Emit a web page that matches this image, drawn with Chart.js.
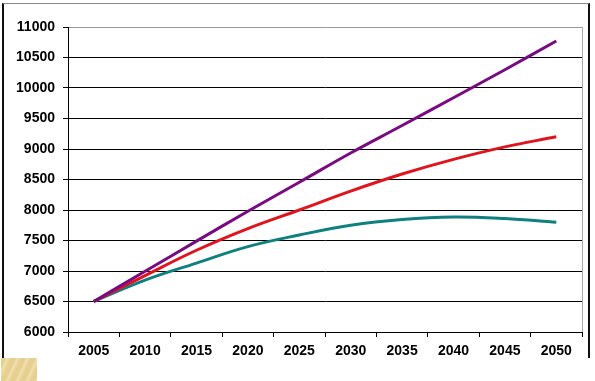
<!DOCTYPE html>
<html>
<head>
<meta charset="utf-8">
<script src="https://cdn.jsdelivr.net/npm/chart.js@4/dist/chart.umd.min.js"></script>
<style>
  html, body { margin: 0; padding: 0; background: #fff; }
  #wrap { position: relative; width: 595px; height: 381px; overflow: hidden; }
  #c { position: absolute; left: 0; top: 0; }
  #frame { position: absolute; left: 2px; top: 3px; width: 588px; height: 355px;
           border-left: 2px solid #111; border-right: 2px solid #111; border-top: 1px solid #888;
           box-sizing: border-box; pointer-events: none; }
  #swatch { position: absolute; left: 1px; top: 358px; width: 36px; height: 23px;
            background: repeating-linear-gradient(115deg, #e6cf8f 0px, #e6cf8f 4px, #f0e0b0 6px, #e9d396 9px); }
</style>
</head>
<body>
<div id="wrap">
  <canvas id="c" width="595" height="381"></canvas>
  <div id="frame"></div>
  <div id="swatch"></div>
</div>
<script>
const years = ['2005','2010','2015','2020','2025','2030','2035','2040','2045','2050'];
const purpleSeries = [6500, 6995, 7490, 7980, 8455, 8935, 9385, 9840, 10300, 10770];
const redSeries    = [6500, 6925, 7340, 7695, 8000, 8310, 8590, 8830, 9035, 9200];
const tealSeries   = [6500, 6850, 7130, 7400, 7590, 7750, 7845, 7885, 7860, 7800];
const yMin = 6000, yMax = 11000, yStep = 500;

const font = { family: 'Liberation Sans, Arial, sans-serif', size: 14, weight: 'bold' };

new Chart(document.getElementById('c'), {
  type: 'line',
  data: {
    labels: years,
    datasets: [
      { data: purpleSeries, borderColor: '#7a0a82', borderWidth: 3, pointRadius: 0, tension: 0.4, fill: false },
      { data: redSeries, borderColor: '#e0141e', borderWidth: 3, pointRadius: 0, tension: 0.4, fill: false },
      { data: tealSeries, borderColor: '#0f8080', borderWidth: 3, pointRadius: 0, tension: 0.4, fill: false }
    ]
  },
  options: {
    responsive: false,
    animation: false,
    events: [],
    layout: { padding: { left: 0, top: 27, right: 13, bottom: 0 } },
    plugins: { legend: { display: false }, tooltip: { enabled: false } },
    scales: {
      x: {
        type: 'category',
        offset: true,
        grid: {
          offset: true,
          drawOnChartArea: true,
          color: (ctx) => (ctx.index === undefined ? '#aaaaaa' : 'rgba(0,0,0,0)'),
          tickColor: '#000',
          tickLength: 5,
          lineWidth: 1
        },
        border: { display: true, color: '#000', width: 1 },
        ticks: { color: '#000', font: font, padding: 6, maxRotation: 0, autoSkip: false },
        afterFit: (s) => { s.height = 49; }
      },
      y: {
        min: yMin, max: yMax,
        grid: {
          color: (ctx) => (ctx.tick && ctx.tick.value === yMax ? '#999999' : '#000'),
          tickColor: '#000',
          tickLength: 5,
          lineWidth: 1
        },
        border: { display: true, color: '#000', width: 1 },
        ticks: { stepSize: yStep, color: '#000', font: font, padding: 8, callback: (v) => String(v) },
        afterFit: (s) => { s.width = 68; }
      }
    }
  }
});
</script>
</body>
</html>
